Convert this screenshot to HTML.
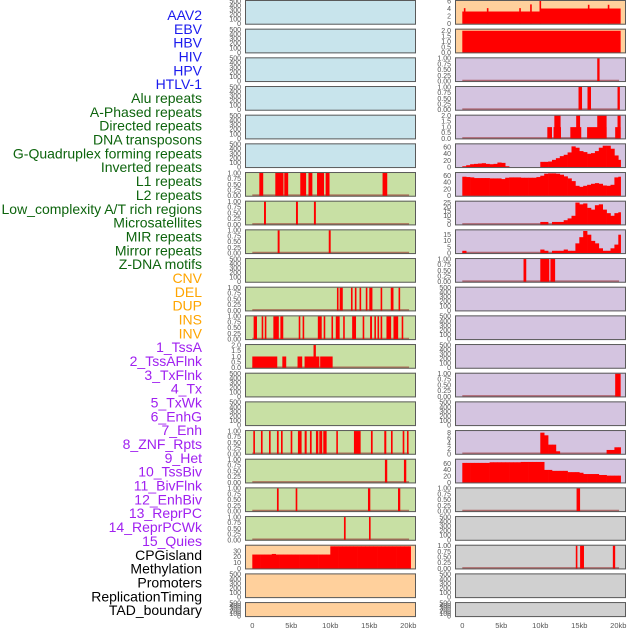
<!DOCTYPE html>
<html><head><meta charset="utf-8">
<style>
html,body{margin:0;padding:0;background:#fff;}
svg{display:block;font-family:"Liberation Sans",sans-serif;}
</style></head>
<body>
<svg id="chart" width="630" height="630" viewBox="0 0 630 630"></svg>
<script>
const labels = ["AAV2","EBV","HBV","HIV","HPV","HTLV-1","Alu repeats","A-Phased repeats","Directed repeats","DNA transposons","G-Quadruplex forming repeats","Inverted repeats","L1 repeats","L2 repeats","Low_complexity A/T rich regions","Microsatellites","MIR repeats","Mirror repeats","Z-DNA motifs","CNV","DEL","DUP","INS","INV","1_TssA","2_TssAFlnk","3_TxFlnk","4_Tx","5_TxWk","6_EnhG","7_Enh","8_ZNF_Rpts","9_Het","10_TssBiv","11_BivFlnk","12_EnhBiv","13_ReprPC","14_ReprPCWk","15_Quies","CPGisland","Methylation","Promoters","ReplicationTiming","TAD_boundary"];
const labelColors = ["#1a1aee","#1a1aee","#1a1aee","#1a1aee","#1a1aee","#1a1aee","#0d640d","#0d640d","#0d640d","#0d640d","#0d640d","#0d640d","#0d640d","#0d640d","#0d640d","#0d640d","#0d640d","#0d640d","#0d640d","#ffa500","#ffa500","#ffa500","#ffa500","#ffa500","#a020f0","#a020f0","#a020f0","#a020f0","#a020f0","#a020f0","#a020f0","#a020f0","#a020f0","#a020f0","#a020f0","#a020f0","#a020f0","#a020f0","#a020f0","#000","#000","#000","#000","#000"];
const xTicks = [0,5,10,15,20];
const xTickLabels = ["0","5kb","10kb","15kb","20kb"];
const ticksEmpty = [0,100,200,300,400,500];
const ticksBin = [0,0.25,0.5,0.75,1];
const ticksCnt2 = [0,0.5,1,1.5,2];
// interval data (kb)
const aluIv = [[0.9,1.4],[2.95,4.0],[4.1,4.6],[6.15,6.9],[7.2,7.7],[8.3,9.2],[9.4,9.9],[16.7,17.3]];
const aPhasedIv = [[1.5,1.75],[5.6,5.85],[7.9,8.15]];
const directedIv = [[3.25,3.5],[9.8,10.05]];
const gquadIv = [[10.85,11.05],[11.2,11.6],[12.65,12.85],[13.15,13.35],[13.75,13.95],[14.55,14.75],[15.0,15.4],[16.45,16.65],[17.75,18.1],[18.75,18.95]];
const invertedIv = [[0.17,0.6],[1.2,1.4],[1.6,1.8],[2.7,3.4],[3.6,3.97],[5.95,6.15],[6.45,6.65],[8.4,8.9],[9.15,9.35],[10.15,10.35],[10.7,11.2],[11.65,11.85],[12.8,13.3],[14.15,14.35],[15.1,15.35],[15.65,15.85],[16.05,16.25],[16.45,16.65],[17.2,17.8],[18.1,18.7],[19.15,19.35]];
const l1Cnt = [[0,3.2,1],[3.85,4.35,1],[5.8,6.4,1],[6.7,8.6,1],[7.85,8.15,2],[8.7,10.3,1]];
const cnvIv = [[0.13,0.34],[1.11,1.32],[2.14,2.35],[3.16,3.38],[3.68,3.89],[4.92,5.13],[5.85,6.32],[6.71,6.97],[7.39,7.61],[8.16,8.46],[8.59,8.72],[8.76,8.93],[9.1,9.53],[10.77,10.94],[13.03,13.89],[15.21,15.43],[16.92,17.18],[17.78,17.99],[19.28,19.49],[19.83,20.0]];
const delIv = [[17.0,17.3],[19.44,19.74]];
const dupIv = [[3.16,3.38],[5.56,5.77],[14.83,15.13],[18.68,18.97]];
const insIv = [[11.75,11.97],[14.96,15.17]];
const cpgBins = [24,24,24,24,24,25,24,24,24,24,24,24,24,24,24,24,24,24,24,24,38,38,38,38,38,38,38,38,38,38,38,38,38,38,38,38,38,38,38,38,38];
const ins2Cnt = [[0,10,3.3],[10,20.3,4.1],[0.2,0.4,4.2],[3.15,3.35,4.2],[7.3,7.5,4.2],[8.7,8.9,5.2],[9.9,10.1,6.1],[16.1,16.3,5.1],[18.65,18.85,5.1]];
const invCnt = [[0,20.3,2]];
const tssAIv = [[17.3,17.6]];
const tssAFlnkIv = [[14.9,15.35],[16.05,16.5],[19.9,20.2]];
const txFlnkCnt = [[10.9,11.5,1],[11.7,12.65,1],[11.8,12.6,2],[13.85,15.25,1],[14.6,15.1,2],[16.0,18.5,1],[17.3,18.5,2],[19.6,20.3,1],[19.9,20.3,2]];
const txBins = [3,6,9,10,11,12,10,9,10,14,13,3,0,0,0,0,0,0,0,0,16,16,17,22,27,33,37,44,62,58,48,45,40,42,48,58,64,64,55,35,22];
const txWkBins = [57,56,55,53,53,53,53,52,52,52,50,54,55,55,55,54,54,54,54,56,60,66,67,67,66,63,58,52,44,30,27,30,33,36,38,36,31,30,33,55,57];
const enhGBins = [0,0,0,0,0,0,0,0,0,0,0,0,0,0,0,0,0,0,0,0,3,3,0,3,3,3,5,7,10,25,23,24,19,17,22,23,17,13,10,13,14];
const enhBins = [2,0,0,0,0,0,0,0,0,0,0,0,0,0,0,0,0,0,0,0,3,2,0,2,2,2,3,2,2,8,13,18,15,10,8,4,2,2,4,7,15];
const znfIv = [[7.85,8.2],[10.0,11.15],[11.3,11.9]];
const tssBivIv = [[19.6,20.3]];
const quiesBins = [0,0,0,0,0,0,0,0,0,0,0,0,0,0,0,0,0,0,0,0,8,7,3.5,3.5,1,0,0,0,0,0,0,0,0,0,0,0,0,1.5,1.5,2.5,2.5];
const cpg2Bins = [62,62,62,62,62,62,62,64,64,64,64,64,64,64,64,65,65,65,65,65,65,40,40,37,37,37,37,33,33,33,31,27,27,27,27,24,24,22,22,22,22];
const methIv = [[14.65,15.1]];
const replIv = [[14.55,14.75],[15.1,15.6],[19.3,19.6]];

const BLUE="#c8e4ec", GREEN="#c8e0a4", ORANGE="#ffd09c", PURPLE="#d4c4e0", GRAY="#d0d0d0";
const panels = [
 {c:0,r:0,bg:BLUE,t:"empty"},{c:0,r:1,bg:BLUE,t:"empty"},{c:0,r:2,bg:BLUE,t:"empty"},
 {c:0,r:3,bg:BLUE,t:"empty"},{c:0,r:4,bg:BLUE,t:"empty"},{c:0,r:5,bg:BLUE,t:"empty"},
 {c:0,r:6,bg:GREEN,t:"iv",d:aluIv},{c:0,r:7,bg:GREEN,t:"iv",d:aPhasedIv},{c:0,r:8,bg:GREEN,t:"iv",d:directedIv},
 {c:0,r:9,bg:GREEN,t:"empty"},{c:0,r:10,bg:GREEN,t:"iv",d:gquadIv},{c:0,r:11,bg:GREEN,t:"iv",d:invertedIv},
 {c:0,r:12,bg:GREEN,t:"cnt",d:l1Cnt,ymax:2,ticks:ticksCnt2,fmt:1},{c:0,r:13,bg:GREEN,t:"empty"},{c:0,r:14,bg:GREEN,t:"empty"},
 {c:0,r:15,bg:GREEN,t:"iv",d:cnvIv},{c:0,r:16,bg:GREEN,t:"iv",d:delIv},{c:0,r:17,bg:GREEN,t:"iv",d:dupIv},
 {c:0,r:18,bg:GREEN,t:"iv",d:insIv},{c:0,r:19,bg:ORANGE,t:"prof",d:cpgBins,ymax:39,ticks:[0,10,20,30],noLine:true},
 {c:0,r:20,bg:ORANGE,t:"empty"},{c:0,r:21,bg:ORANGE,t:"empty"},
 {c:1,r:0,bg:ORANGE,t:"cnt",d:ins2Cnt,ymax:6.1,ticks:[0,2,4,6],noLine:true},{c:1,r:1,bg:ORANGE,t:"cnt",d:invCnt,ymax:2.1,ticks:[0,0.5,1,1.5,2],fmt:1,noLine:true},
 {c:1,r:2,bg:PURPLE,t:"iv",d:tssAIv},{c:1,r:3,bg:PURPLE,t:"iv",d:tssAFlnkIv},
 {c:1,r:4,bg:PURPLE,t:"cnt",d:txFlnkCnt,ymax:2,ticks:ticksCnt2,fmt:1},
 {c:1,r:5,bg:PURPLE,t:"prof",d:txBins,ymax:68,ticks:[0,20,40,60],noLine:true},
 {c:1,r:6,bg:PURPLE,t:"prof",d:txWkBins,ymax:68,ticks:[0,20,40,60],noLine:true},
 {c:1,r:7,bg:PURPLE,t:"prof",d:enhGBins,ymax:26,ticks:[0,5,10,15,20,25]},
 {c:1,r:8,bg:PURPLE,t:"prof",d:enhBins,ymax:18.5,ticks:[0,5,10,15]},
 {c:1,r:9,bg:PURPLE,t:"iv",d:znfIv},{c:1,r:10,bg:PURPLE,t:"empty"},{c:1,r:11,bg:PURPLE,t:"empty"},
 {c:1,r:12,bg:PURPLE,t:"empty"},{c:1,r:13,bg:PURPLE,t:"iv",d:tssBivIv},{c:1,r:14,bg:PURPLE,t:"empty"},
 {c:1,r:15,bg:PURPLE,t:"prof",d:quiesBins,ymax:8.6,ticks:[0,2,4,6,8]},
 {c:1,r:16,bg:PURPLE,t:"prof",d:cpg2Bins,ymax:72,ticks:[0,20,40,60],noLine:true},
 {c:1,r:17,bg:GRAY,t:"iv",d:methIv},{c:1,r:18,bg:GRAY,t:"empty"},{c:1,r:19,bg:GRAY,t:"iv",d:replIv},
 {c:1,r:20,bg:GRAY,t:"empty"},{c:1,r:21,bg:GRAY,t:"empty"}
];
const NS="http://www.w3.org/2000/svg";
const svg=document.getElementById("chart");
function mk(tag,attrs,parent){const e=document.createElementNS(NS,tag);for(const k in attrs)e.setAttribute(k,attrs[k]);(parent||svg).appendChild(e);return e;}
const colLeft=[245,455], colW=171, zeroX=[252.3,462.3], PXKB=7.8;
function xs(c,kb){return zeroX[c]+kb*PXKB;}
function rowTop(r){return r*28.67;}
function rowH(r){return r===21?15:24.7;}

labels.forEach((s,i)=>{
  const t=mk("text",{x:202,y:15+13.84*i+5,"text-anchor":"end","font-size":"14",fill:labelColors[i]});
  
  
  t.textContent=s;
});

panels.forEach(p=>{
  const top=rowTop(p.r), h=rowH(p.r), x0=colLeft[p.c];
  const g=mk("g",{});
  
  
  mk("rect",{x:x0,y:top,width:colW,height:h,fill:p.bg},g);
  let ymax,ticks,fmt;
  if(p.t==="empty"){ymax=500;ticks=ticksEmpty;fmt=0;}
  else if(p.t==="iv"){ymax=1;ticks=ticksBin;fmt=2;}
  else {ymax=p.ymax;ticks=p.ticks;fmt=p.fmt||0;}
  const bot=top+h-0.8, ph=h-1.8;
  const ys=v=>bot-v/ymax*ph;
  ticks.forEach(v=>{
    const t=mk("text",{x:x0-4,y:ys(v)+2.3,"text-anchor":"end","font-size":"7",fill:"#555"},g);
    
    
    t.textContent=v.toFixed(fmt);
  });
  if(p.t!=="empty" && !p.noLine){
    mk("line",{x1:xs(p.c,0),x2:xs(p.c,20.1),y1:bot-0.5,y2:bot-0.5,stroke:"rgba(150,40,40,0.6)","stroke-width":2},g);
  }
  if(p.t==="iv"){
    p.d.forEach(iv=>{
      const b=mk("rect",{x:xs(p.c,iv[0]),y:ys(1),width:Math.max(1.6,(iv[1]-iv[0])*PXKB),height:ys(0)-ys(1),fill:"#ff0000"},g);
      
      
    });
  } else if(p.t==="cnt"){
    p.d.forEach(iv=>{
      const b=mk("rect",{x:xs(p.c,iv[0]),y:ys(iv[2]),width:Math.max(1.6,(iv[1]-iv[0])*PXKB),height:ys(0)-ys(iv[2]),fill:"#ff0000"},g);
      
      
    });
  } else if(p.t==="prof"){
    p.d.forEach((v,i)=>{
      if(v<=0)return;
      const s=i*0.5, e=Math.min(s+0.5,20.3);
      const b=mk("rect",{x:xs(p.c,s),y:ys(v),width:(e-s)*PXKB+0.3,height:ys(0)-ys(v),fill:"#ff0000"},g);
      
      
    });
  }
  mk("rect",{x:x0+0.5,y:top+0.5,width:colW-1,height:h-1,fill:"none",stroke:"#5a5a5a","stroke-width":1},g);
});

[0,1].forEach(c=>{
  xTicks.forEach((v,i)=>{
    const t=mk("text",{x:xs(c,v),y:628,"text-anchor":"middle","font-size":"7.5",fill:"#555"});
    
    
    t.textContent=xTickLabels[i];
  });
});
</script>
</body></html>
